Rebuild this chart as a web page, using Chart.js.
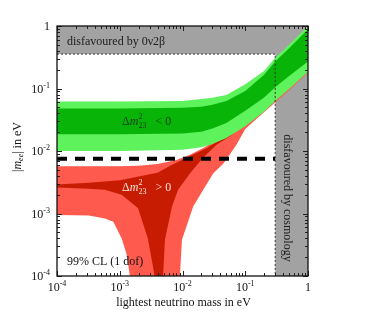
<!DOCTYPE html>
<html>
<head>
<meta charset="utf-8">
<script src="https://cdn.jsdelivr.net/npm/chart.js@4.4.1/dist/chart.umd.min.js"></script>
<style>
  html, body { margin: 0; padding: 0; background: #fff; }
  #wrap { width: 382px; height: 332px; }
</style>
</head>
<body>
<div id="wrap"><canvas id="chart" width="382" height="332"></canvas></div>
<script>
// lightest neutrino mass (eV) -> |m_ee| (eV)
const ihMass        = [1e-4, 1e-3, 1e-2, 0.02, 0.03, 0.05, 0.1, 0.2, 0.3, 0.5, 1];
const ihOuterTop    = [0.062, 0.062, 0.063, 0.068, 0.071, 0.079, 0.117, 0.19, 0.31, 0.5, 1.0];
const ihInnerTop    = [0.048, 0.048, 0.049, 0.051, 0.055, 0.063, 0.091, 0.166, 0.27, 0.44, 0.89];
const ihInnerBottom = [0.0186, 0.0186, 0.019, 0.0204, 0.023, 0.028, 0.044, 0.072, 0.105, 0.158, 0.27];
const ihOuterBottom = [0.010, 0.010, 0.0105, 0.0115, 0.0129, 0.0162, 0.025, 0.043, 0.063, 0.098, 0.186];

// normal hierarchy edges as [mass, m_ee]; 1e-6 means "below the axis"
const nhOuterTop = [[1e-4, 0.0057], [1e-3, 0.0057], [2e-3, 0.0058], [4e-3, 0.0062], [8e-3, 0.0072],
  [0.0132, 0.0087], [0.0214, 0.0112], [0.0316, 0.0141], [0.045, 0.02], [0.072, 0.032], [0.1, 0.045],
  [0.158, 0.071], [0.25, 0.112], [0.5, 0.224], [1, 0.45]];
const nhOuterBottom = [[1e-4, 9.5e-4], [3.2e-4, 9.3e-4], [5.8e-4, 8.3e-4], [7.9e-4, 7.4e-4], [1.07e-3, 4.0e-4],
  [1.29e-3, 2.2e-4], [1.45e-3, 1.0e-4], [1.5e-3, 1e-6], [8.7e-3, 1e-6], [9.1e-3, 1e-4], [9.8e-3, 3.8e-4],
  [0.0148, 1.3e-3], [0.0214, 2.4e-3], [0.031, 4.4e-3], [0.045, 6.3e-3], [0.072, 0.0125], [0.1, 0.0225],
  [0.158, 0.034], [0.25, 0.051], [0.5, 0.094], [1, 0.18]];
const nhInnerTop = [[1e-4, 2.9e-3], [3.2e-4, 3.1e-3], [1e-3, 3.4e-3], [2e-3, 3.9e-3], [4e-3, 4.5e-3],
  [6.8e-3, 6.0e-3], [0.0132, 8.3e-3], [0.0245, 0.0112], [0.045, 0.0166], [0.1, 0.035], [0.25, 0.089],
  [0.5, 0.178], [1, 0.35]];
const nhInnerBottom = [[1e-4, 2.6e-3], [3.2e-4, 2.5e-3], [5.8e-4, 2.4e-3], [1.07e-3, 2.0e-3], [1.95e-3, 1.23e-3],
  [2.8e-3, 4.0e-4], [3.6e-3, 1e-4], [3.8e-3, 1e-6], [4.8e-3, 1e-6], [4.9e-3, 1e-4], [5.25e-3, 3.8e-4],
  [6.8e-3, 1.3e-3], [8.5e-3, 2.4e-3], [0.0132, 4.4e-3], [0.0214, 7.9e-3], [0.035, 0.0126], [0.058, 0.0174],
  [0.1, 0.028], [0.25, 0.063], [0.5, 0.126], [1, 0.25]];

const sensitivity = 0.0075;     // dashed line
const doubleBetaLimit = 0.355;  // gray band, top
const cosmologyLimit = 0.3;     // gray band, right
const decades = [1e-4, 1e-3, 1e-2, 1e-1, 1];
const decadeExp = ['-4', '-3', '-2', '-1', ''];

const SERIF = '"Liberation Serif", "DejaVu Serif", serif';

const toPoints = arr => arr.map(([x, y]) => ({ x, y }));
const zip = (xs, ys) => xs.map((x, i) => ({ x, y: ys[i] }));

function band(points, color, fill) {
  return {
    data: points, backgroundColor: color, borderColor: 'rgba(0,0,0,0)', borderWidth: 0,
    pointRadius: 0, fill: fill, tension: 0
  };
}

// draw a row of text pieces with their own font and vertical offset
function drawParts(ctx, parts, x, y, align) {
  let total = 0;
  parts.forEach(p => { ctx.font = p.font; p.w = ctx.measureText(p.t).width; total += (p.adv === false ? 0 : p.w); });
  let cx = align === 'center' ? x - total / 2 : align === 'right' ? x - total : x;
  ctx.textAlign = 'left';
  ctx.textBaseline = 'middle';
  parts.forEach(p => {
    ctx.font = p.font;
    ctx.fillText(p.t, cx, y + (p.dy || 0));
    if (p.adv !== false) cx += p.w;
  });
}

const decor = {
  id: 'decor',
  afterDraw(chart) {
    const ctx = chart.ctx;
    const { left, right, top, bottom } = chart.chartArea;
    const xs = chart.scales.x, ys = chart.scales.y;
    ctx.save();

    // inner ticks
    ctx.strokeStyle = '#222';
    ctx.lineWidth = 1;
    for (let d = 1e-4; d < 1.5; d *= 10) {
      for (let k = 1; k <= 9; k++) {
        const v = d * k;
        if (v > 1.0001) break;
        const len = k === 1 ? 5 : 3;
        const px = Math.round(xs.getPixelForValue(v)) + 0.5;
        const py = Math.round(ys.getPixelForValue(v)) + 0.5;
        ctx.beginPath();
        ctx.moveTo(px, bottom); ctx.lineTo(px, bottom - len);
        ctx.moveTo(px, top); ctx.lineTo(px, top + len);
        ctx.moveTo(left, py); ctx.lineTo(left + len, py);
        ctx.moveTo(right, py); ctx.lineTo(right - len, py);
        ctx.stroke();
      }
    }
    // frame
    ctx.strokeStyle = '#111';
    ctx.lineWidth = 1.3;
    ctx.strokeRect(left, top, right - left, bottom - top);

    // tick labels
    ctx.fillStyle = '#111';
    decades.forEach((v, i) => {
      const e = decadeExp[i];
      const px = xs.getPixelForValue(v);
      const py = ys.getPixelForValue(v);
      const parts = e
        ? [{ t: '10', font: '12px ' + SERIF }, { t: e, font: '8px ' + SERIF, dy: -4 }]
        : [{ t: '1', font: '12px ' + SERIF }];
      drawParts(ctx, parts, px, bottom + 12, 'center');
      drawParts(ctx, parts, left - 7, py + 1, 'right');
    });

    // axis titles
    drawParts(ctx, [{ t: 'lightest neutrino mass in eV', font: '12px ' + SERIF }], (left + right) / 2 + 1, bottom + 27, 'center');
    ctx.save();
    ctx.translate(18, 147);
    ctx.rotate(-Math.PI / 2);
    drawParts(ctx, [
      { t: '|', font: '12px ' + SERIF },
      { t: 'm', font: 'italic 12px ' + SERIF },
      { t: 'ee', font: 'italic 8px ' + SERIF, dy: 3 },
      { t: '| in eV', font: '12px ' + SERIF }
    ], 0, 0, 'center');
    ctx.restore();

    // region labels
    ctx.fillStyle = '#1c1c1c';
    drawParts(ctx, [{ t: 'disfavoured by 0\u03bd2\u03b2', font: '12px ' + SERIF }], left + 10, top + 16, 'left');
    ctx.save();
    ctx.translate(xs.getPixelForValue(0.46), 198);
    ctx.rotate(Math.PI / 2);
    drawParts(ctx, [{ t: 'disfavoured by cosmology', font: '12px ' + SERIF }], 0, 0, 'center');
    ctx.restore();
    ctx.fillStyle = '#111';
    drawParts(ctx, [{ t: '99% CL (1 dof)', font: '12px ' + SERIF }], left + 10, 262, 'left');

    const dm = (sign) => [
      { t: '\u0394', font: '12px ' + SERIF },
      { t: 'm', font: 'italic 12px ' + SERIF },
      { t: '2', font: '8px ' + SERIF, dy: -5, adv: false },
      { t: '23', font: '8px ' + SERIF, dy: 4 },
      { t: '   ' + sign + ' 0', font: '12px ' + SERIF }
    ];
    ctx.fillStyle = '#123c12';
    drawParts(ctx, dm('<'), 122, 122, 'left');
    ctx.fillStyle = '#ffe4dc';
    drawParts(ctx, dm('>'), 122, 188, 'left');
    ctx.restore();
  }
};

new Chart(document.getElementById('chart'), {
  type: 'line',
  data: {
    datasets: [
      { data: [{ x: 1e-4, y: sensitivity }, { x: cosmologyLimit, y: sensitivity }],
        borderColor: '#000', borderWidth: 4, borderDash: [10, 8], pointRadius: 0, fill: false },
      { data: [{ x: 1e-4, y: doubleBetaLimit }, { x: cosmologyLimit, y: doubleBetaLimit }, { x: cosmologyLimit, y: 1e-4 }],
        borderColor: '#333', borderWidth: 1, borderDash: [2, 2], pointRadius: 0, fill: false },
      band(zip(ihMass, ihInnerTop), '#08b408', '+1'),
      band(zip(ihMass, ihInnerBottom), '#08b408', false),
      band(zip(ihMass, ihOuterTop), '#5ef25c', '+1'),
      band(zip(ihMass, ihOuterBottom), '#5ef25c', false),
      band(toPoints(nhInnerTop), '#c81c02', '+1'),
      band(toPoints(nhInnerBottom), '#c81c02', false),
      band(toPoints(nhOuterTop), '#ff5a4e', '+1'),
      band(toPoints(nhOuterBottom), '#ff5a4e', false),
      band([{ x: 1e-4, y: doubleBetaLimit }, { x: 1, y: doubleBetaLimit }], '#a2a2a2', 'end'),
      band([{ x: cosmologyLimit, y: 1 }, { x: 1, y: 1 }], '#a2a2a2', 'start')
    ]
  },
  options: {
    responsive: false,
    animation: false,
    layout: { padding: { left: 57, top: 26, right: 74, bottom: 56 } },
    plugins: { legend: { display: false }, tooltip: { enabled: false } },
    scales: {
      x: { type: 'logarithmic', min: 1e-4, max: 1, display: false },
      y: { type: 'logarithmic', min: 1e-4, max: 1, display: false }
    }
  },
  plugins: [decor]
});
</script>
</body>
</html>
